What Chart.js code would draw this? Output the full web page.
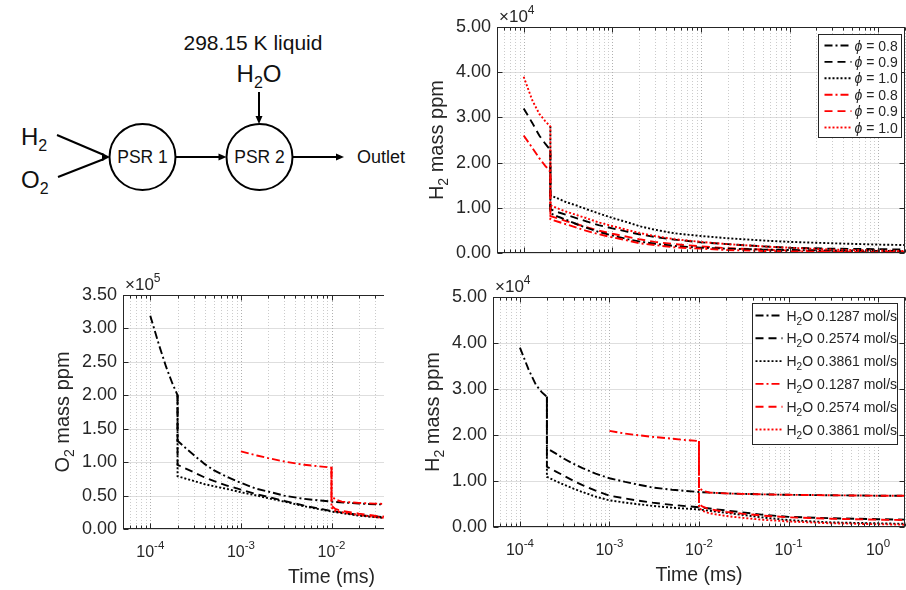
<!DOCTYPE html>
<html>
<head>
<meta charset="utf-8">
<script src="https://cdn.jsdelivr.net/npm/chart.js@4.4.0/dist/chart.umd.min.js"></script>
<style>
  html, body { margin: 0; padding: 0; background: #fff; width: 906px; height: 590px; overflow: hidden; position: relative; }
  .panel { position: absolute; }
  .panel canvas { display: block; }
</style>
</head>
<body>

<svg width="440" height="260" style="position:absolute;left:0;top:0" font-family="'Liberation Sans', Arial, sans-serif" fill="#111">
  <text x="253" y="50" font-size="21" text-anchor="middle">298.15 K liquid</text>
  <text x="259" y="82" font-size="24" text-anchor="middle">H<tspan font-size="16" dy="6">2</tspan><tspan dy="-6">O</tspan></text>
  <g stroke="#000" stroke-width="2" fill="none">
    <line x1="259" y1="92" x2="259" y2="117"/>
    <circle cx="142.5" cy="157" r="33"/>
    <circle cx="259.5" cy="157" r="33"/>
    <line x1="175.5" y1="157" x2="220" y2="157"/>
    <line x1="292.5" y1="157" x2="337" y2="157"/>
    <line x1="57" y1="135" x2="104" y2="155"/>
    <line x1="58" y1="177" x2="104" y2="159"/>
  </g>
  <g fill="#000">
    <polygon points="259,124 255.5,116 262.5,116"/>
    <polygon points="226.5,157 218.5,153.5 218.5,160.5"/>
    <polygon points="344,157 336,153.5 336,160.5"/>
    <polygon points="110,157 102,153 102,161"/>
  </g>
  <text x="142.5" y="163" font-size="17.5" text-anchor="middle">PSR 1</text>
  <text x="259.5" y="163" font-size="17.5" text-anchor="middle">PSR 2</text>
  <text x="357" y="163" font-size="18">Outlet</text>
  <text x="21" y="145" font-size="24">H<tspan font-size="16" dy="6">2</tspan></text>
  <text x="21" y="188" font-size="24">O<tspan font-size="16" dy="6">2</tspan></text>
</svg>

<div class="panel" style="left:410px;top:0;width:500px;height:270px"><canvas id="chart-h2-phi"></canvas></div>
<div class="panel" style="left:0;top:270px;width:384px;height:320px;overflow:hidden">
  <div style="position:relative;width:545px;height:320px"><canvas id="chart-o2-h2o"></canvas></div>
</div>
<div class="panel" style="left:410px;top:270px;width:500px;height:320px"><canvas id="chart-h2-h2o"></canvas></div>

<script>
// time axis samples (ms)
const tPre = [1e-4, 1.25e-4, 1.5e-4, 1.75e-4, 2e-4];
const tPost = [2e-4, 2.5e-4, 3e-4, 4e-4, 5e-4, 7e-4, 1e-3, 1.5e-3, 2e-3, 3e-3, 5e-3, 1e-2, 2e-2, 5e-2, 0.1, 0.3, 1, 2];
const tRedPre = [1e-3, 1.5e-3, 2e-3, 3e-3, 5e-3, 7e-3, 1e-2];
const tRedPost = [1e-2, 1.1e-2, 1.3e-2, 1.6e-2, 2e-2, 3e-2, 5e-2, 0.1, 0.3, 1, 2];

// top right: H2 mass ppm (x1e4) vs equivalence ratio
const aPre08 = [2.6, 2.33, 2.1, 1.93, 1.8];
const aPre09 = [3.2, 2.88, 2.6, 2.42, 2.28];
const aPre10 = [3.9, 3.38, 3.08, 2.92, 2.8];
const aBlk08 = [0.88, 0.8, 0.74, 0.64, 0.57, 0.47, 0.39, 0.31, 0.26, 0.21, 0.16, 0.12, 0.1, 0.08, 0.07, 0.06, 0.05, 0.05];
const aBlk09 = [0.97, 0.9, 0.85, 0.77, 0.71, 0.62, 0.55, 0.47, 0.42, 0.36, 0.3, 0.24, 0.2, 0.15, 0.12, 0.1, 0.09, 0.08];
const aBlk10 = [1.28, 1.2, 1.13, 1.05, 0.98, 0.88, 0.78, 0.68, 0.6, 0.52, 0.44, 0.38, 0.33, 0.28, 0.25, 0.22, 0.19, 0.18];
const aRed08 = [0.75, 0.69, 0.64, 0.56, 0.5, 0.42, 0.35, 0.28, 0.22, 0.18, 0.13, 0.1, 0.07, 0.05, 0.04, 0.03, 0.02, 0.02];
const aRed09 = [0.82, 0.76, 0.71, 0.64, 0.58, 0.5, 0.43, 0.36, 0.31, 0.25, 0.2, 0.15, 0.11, 0.08, 0.06, 0.04, 0.03, 0.03];
const aRed10 = [1.06, 0.98, 0.92, 0.84, 0.78, 0.68, 0.6, 0.51, 0.45, 0.38, 0.31, 0.25, 0.2, 0.15, 0.12, 0.08, 0.06, 0.05];
const phiLabels = ['0.8', '0.9', '1.0', '0.8', '0.9', '1.0'];

// bottom right: H2 mass ppm (x1e4) vs water flow
const bPre = [3.9, 3.42, 3.1, 2.93, 2.83];
const bBlk1287 = [1.71, 1.6, 1.5, 1.37, 1.28, 1.16, 1.06, 0.98, 0.93, 0.86, 0.81, 0.76, 0.73, 0.71, 0.7, 0.69, 0.68, 0.68];
const bBlk2574 = [1.31, 1.21, 1.13, 1.0, 0.91, 0.79, 0.68, 0.62, 0.58, 0.53, 0.48, 0.43, 0.36, 0.27, 0.22, 0.19, 0.17, 0.16];
const bBlk3861 = [1.09, 1.0, 0.93, 0.83, 0.76, 0.66, 0.58, 0.53, 0.5, 0.46, 0.42, 0.38, 0.31, 0.21, 0.15, 0.1, 0.08, 0.07];
const bRedPre = [2.09, 2.03, 2.0, 1.96, 1.92, 1.89, 1.87];
const bRed1287 = [0.85, 0.79, 0.75, 0.74, 0.73, 0.72, 0.71, 0.7, 0.69, 0.68, 0.68];
const bRed2574 = [0.5, 0.44, 0.39, 0.36, 0.33, 0.29, 0.25, 0.21, 0.18, 0.16, 0.15];
const bRed3861 = [0.42, 0.35, 0.3, 0.27, 0.24, 0.2, 0.16, 0.12, 0.08, 0.06, 0.05];
const flowLabels = ['0.1287', '0.2574', '0.3861', '0.1287', '0.2574', '0.3861'];

// bottom left: O2 mass ppm (x1e5) vs water flow
const cPre = [3.19, 2.75, 2.42, 2.18, 2.0];
const cBlk1287 = [1.32, 1.2, 1.11, 0.97, 0.88, 0.78, 0.69, 0.6, 0.56, 0.5, 0.45, 0.41, 0.38, 0.36, 0.35, 0.34, 0.34, 0.34];
const cBlk2574 = [0.96, 0.9, 0.85, 0.77, 0.72, 0.65, 0.59, 0.52, 0.48, 0.42, 0.35, 0.27, 0.21, 0.16, 0.14, 0.12, 0.11, 0.11];
const cBlk3861 = [0.79, 0.75, 0.72, 0.67, 0.64, 0.6, 0.55, 0.5, 0.46, 0.41, 0.34, 0.26, 0.2, 0.15, 0.13, 0.11, 0.1, 0.1];
const cRedPre = [1.16, 1.1, 1.06, 1.01, 0.96, 0.94, 0.92];
const cRed1287 = [0.5, 0.44, 0.41, 0.4, 0.39, 0.38, 0.37, 0.36, 0.35, 0.34, 0.34];
const cRed2574 = [0.35, 0.3, 0.27, 0.25, 0.23, 0.2, 0.17, 0.14, 0.12, 0.11, 0.11];
const cRed3861 = [0.32, 0.27, 0.25, 0.23, 0.21, 0.18, 0.15, 0.13, 0.11, 0.1, 0.1];

// axis ticks
const decadeTicks = [1e-4, 1e-3, 1e-2, 1e-1, 1];
const decadeExps = ['-4', '-3', '-2', '-1', '0'];
const X_MIN = 5e-5;
const X_MAX = 2;

const FONT = '"Liberation Sans", Arial, Helvetica, sans-serif';
const INK = '#262626';
const BLACK = '#000000';
const RED = '#ff0000';
const DASH_DOT = [8, 3, 2, 3];
const DASHED = [8, 5];
const DOTTED = [2, 2];

const pts = (ts, vs) => ts.map((t, i) => ({ x: t, y: vs[i] }));
const lastPt = (ts, vs) => [{ x: ts[ts.length - 1], y: vs[vs.length - 1] }];

function line(label, color, dash, data, order) {
    return { label, data, borderColor: color, borderDash: dash, borderWidth: 1.9, pointRadius: 0, fill: false, tension: 0, order };
}

const fontOf = p => `${p.italic ? 'italic ' : ''}${p.size}px ${FONT}`;

function richWidth(ctx, parts) {
    let w = 0;
    for (const p of parts) {
        ctx.font = fontOf(p);
        w += ctx.measureText(p.t).width;
    }
    return w;
}

function drawRich(ctx, parts, x, y, align) {
    const w = richWidth(ctx, parts);
    let cx = align === 'center' ? x - w / 2 : align === 'right' ? x - w : x;
    ctx.textAlign = 'left';
    ctx.textBaseline = 'alphabetic';
    for (const p of parts) {
        ctx.font = fontOf(p);
        ctx.fillText(p.t, cx, y + (p.dy || 0));
        cx += ctx.measureText(p.t).width;
    }
}

function logGrid(min, max) {
    const out = [];
    for (let e = -6; e <= 1; e++) {
        for (let m = 1; m <= 9; m++) {
            const v = m * Math.pow(10, e);
            if (v >= min * 0.999 && v <= max * 1.001) out.push({ v, major: m === 1 });
        }
    }
    return out;
}

// Matlab-like box, grid, labels and legend
function matlabPlugin(cfg) {
    return {
        id: 'matlab_' + cfg.id,
        beforeDatasetsDraw(chart) {
            const { ctx, chartArea: a, scales: { x, y } } = chart;
            ctx.save();
            ctx.lineWidth = 1;
            ctx.strokeStyle = '#dedede';
            y.ticks.forEach(t => {
                const py = Math.round(y.getPixelForValue(t.value)) + 0.5;
                ctx.beginPath();
                ctx.moveTo(a.left, py);
                ctx.lineTo(a.right, py);
                ctx.stroke();
            });
            ctx.setLineDash([1, 2]);
            logGrid(x.min, x.max).forEach(t => {
                const px = Math.round(x.getPixelForValue(t.v)) + 0.5;
                ctx.strokeStyle = t.major ? '#b0b0b0' : '#cbcbcb';
                ctx.beginPath();
                ctx.moveTo(px, a.top);
                ctx.lineTo(px, a.bottom);
                ctx.stroke();
            });
            ctx.restore();
        },
        afterDatasetsDraw(chart) {
            const { ctx, chartArea: a, scales: { x, y } } = chart;
            const L = Math.round(a.left) + 0.5, R = Math.round(a.right) - 0.5;
            const T = Math.round(a.top) + 0.5, B = Math.round(a.bottom) - 0.5;
            ctx.save();
            ctx.strokeStyle = INK;
            ctx.lineWidth = 1;
            ctx.setLineDash([]);
            ctx.strokeRect(L, T, R - L, B - T);
            ctx.beginPath();
            logGrid(x.min, x.max).forEach(t => {
                const px = Math.round(x.getPixelForValue(t.v)) + 0.5;
                const len = t.major ? 5 : 3;
                ctx.moveTo(px, B); ctx.lineTo(px, B - len);
                ctx.moveTo(px, T); ctx.lineTo(px, T + len);
            });
            y.ticks.forEach(t => {
                const py = Math.round(y.getPixelForValue(t.value)) + 0.5;
                ctx.moveTo(L, py); ctx.lineTo(L + 5, py);
                ctx.moveTo(R, py); ctx.lineTo(R - 5, py);
            });
            ctx.stroke();

            // legend
            const lg = cfg.legend;
            const bx = Math.round(a.right - lg.right - lg.width) + 0.5;
            const by = Math.round(a.top + lg.top) + 0.5;
            ctx.fillStyle = '#fff';
            ctx.fillRect(bx, by, lg.width, lg.height);
            ctx.strokeStyle = INK;
            ctx.strokeRect(bx, by, lg.width, lg.height);
            chart.data.datasets.forEach((ds, i) => {
                const ly = by + lg.first + i * lg.step;
                ctx.strokeStyle = ds.borderColor;
                ctx.lineWidth = ds.borderWidth;
                ctx.setLineDash(ds.borderDash);
                ctx.beginPath();
                ctx.moveTo(bx + lg.sample[0], ly);
                ctx.lineTo(bx + lg.sample[1], ly);
                ctx.stroke();
                ctx.setLineDash([]);
                ctx.fillStyle = INK;
                drawRich(ctx, lg.parts(i), bx + lg.textX, ly + 5, 'left');
            });
            ctx.restore();
        },
        afterDraw(chart) {
            const { ctx, chartArea: a, scales: { x } } = chart;
            ctx.save();
            ctx.fillStyle = INK;
            // multiplier
            drawRich(ctx, [
                { t: '\u00d7', size: 17 },
                { t: '10', size: 17 },
                { t: cfg.power, size: 12, dy: -8 },
            ], a.left + 2, a.top - 5, 'left');
            // y title
            ctx.save();
            ctx.translate(a.left - 54, (a.top + a.bottom) / 2);
            ctx.rotate(-Math.PI / 2);
            drawRich(ctx, cfg.yTitle, 0, 0, 'center');
            ctx.restore();
            if (cfg.xLabels) {
                decadeTicks.forEach((v, i) => {
                    const px = x.getPixelForValue(v);
                    drawRich(ctx, [
                        { t: '10', size: 16 },
                        { t: decadeExps[i], size: 11.5, dy: -8 },
                    ], px, a.bottom + 28, 'center');
                });
                drawRich(ctx, [{ t: 'Time (ms)', size: 19.5 }], (a.left + a.right) / 2, a.bottom + 54, 'center');
            }
            ctx.restore();
        },
    };
}

function options(yMax, yStep, pad, yWidth, xHeight) {
    return {
        responsive: true,
        maintainAspectRatio: false,
        animation: false,
        devicePixelRatio: 1,
        events: [],
        layout: { padding: pad },
        plugins: { legend: { display: false }, tooltip: { enabled: false } },
        scales: {
            x: {
                type: 'logarithmic',
                min: X_MIN,
                max: X_MAX,
                grid: { display: false, drawTicks: false },
                border: { display: false },
                ticks: { display: false },
                afterFit: s => { s.height = xHeight; },
            },
            y: {
                type: 'linear',
                min: 0,
                max: yMax,
                grid: { display: false, drawTicks: false },
                border: { display: false },
                ticks: {
                    stepSize: yStep,
                    padding: 6,
                    color: INK,
                    font: { family: FONT, size: 18 },
                    callback: v => Number(v).toFixed(2),
                },
                afterFit: s => { s.width = yWidth; },
            },
        },
    };
}

const phiParts = i => [{ t: '\u03d5', size: 14, italic: true }, { t: ' = ' + phiLabels[i], size: 14 }];
const flowParts = i => [
    { t: 'H', size: 14 },
    { t: '2', size: 10, dy: 4 },
    { t: 'O ' + flowLabels[i] + ' mol/s', size: 14 },
];
const h2Title = [{ t: 'H', size: 20 }, { t: '2', size: 14, dy: 5 }, { t: ' mass ppm', size: 20 }];
const o2Title = [{ t: 'O', size: 20 }, { t: '2', size: 14, dy: 5 }, { t: ' mass ppm', size: 20 }];

// top right
new Chart(document.getElementById('chart-h2-phi'), {
    type: 'line',
    data: {
        datasets: [
            line('phi 0.8', BLACK, DASH_DOT, lastPt(tPre, aPre08).concat(pts(tPost, aBlk08)), 1),
            line('phi 0.9', BLACK, DASHED, pts(tPre, aPre09).concat(pts(tPost, aBlk09)), 1),
            line('phi 1.0', BLACK, DOTTED, lastPt(tPre, aPre10).concat(pts(tPost, aBlk10)), 1),
            line('phi 0.8', RED, DASH_DOT, pts(tPre, aPre08).concat(pts(tPost, aRed08)), 0),
            line('phi 0.9', RED, DASHED, lastPt(tPre, aPre09).concat(pts(tPost, aRed09)), 2),
            line('phi 1.0', RED, DOTTED, pts(tPre, aPre10).concat(pts(tPost, aRed10)), 0),
        ],
    },
    options: options(5, 1, { left: 0, top: 27, right: 5, bottom: 0 }, 87, 14),
    plugins: [matlabPlugin({
        id: 'phi', power: '4', yTitle: h2Title, xLabels: false,
        legend: { right: 4, top: 7, width: 83, height: 103, first: 11, step: 16.4, sample: [6, 33], textX: 36, parts: phiParts },
    })],
});

// bottom left
new Chart(document.getElementById('chart-o2-h2o'), {
    type: 'line',
    data: {
        datasets: [
            line('0.1287', BLACK, DASH_DOT, pts(tPre, cPre).concat(pts(tPost, cBlk1287)), 1),
            line('0.2574', BLACK, DASHED, lastPt(tPre, cPre).concat(pts(tPost, cBlk2574)), 1),
            line('0.3861', BLACK, DOTTED, lastPt(tPre, cPre).concat(pts(tPost, cBlk3861)), 1),
            line('0.1287', RED, DASH_DOT, pts(tRedPre, cRedPre).concat(pts(tRedPost, cRed1287)), 0),
            line('0.2574', RED, DASHED, lastPt(tRedPre, cRedPre).concat(pts(tRedPost, cRed2574)), 0),
            line('0.3861', RED, DOTTED, lastPt(tRedPre, cRedPre).concat(pts(tRedPost, cRed3861)), 0),
        ],
    },
    options: options(3.5, 0.5, { left: 0, top: 25, right: 5, bottom: 0 }, 123, 61),
    plugins: [matlabPlugin({
        id: 'o2', power: '5', yTitle: o2Title, xLabels: true,
        legend: { right: -400, top: 8, width: 145, height: 141, first: 12, step: 22.8, sample: [3, 30], textX: 34, parts: flowParts },
    })],
});

// bottom right
new Chart(document.getElementById('chart-h2-h2o'), {
    type: 'line',
    data: {
        datasets: [
            line('0.1287', BLACK, DASH_DOT, pts(tPre, bPre).concat(pts(tPost, bBlk1287)), 1),
            line('0.2574', BLACK, DASHED, lastPt(tPre, bPre).concat(pts(tPost, bBlk2574)), 1),
            line('0.3861', BLACK, DOTTED, lastPt(tPre, bPre).concat(pts(tPost, bBlk3861)), 1),
            line('0.1287', RED, DASH_DOT, pts(tRedPre, bRedPre).concat(pts(tRedPost, bRed1287)), 0),
            line('0.2574', RED, DASHED, lastPt(tRedPre, bRedPre).concat(pts(tRedPost, bRed2574)), 0),
            line('0.3861', RED, DOTTED, lastPt(tRedPre, bRedPre).concat(pts(tRedPost, bRed3861)), 0),
        ],
    },
    options: options(5, 1, { left: 0, top: 27, right: 5, bottom: 0 }, 83, 63),
    plugins: [matlabPlugin({
        id: 'h2o', power: '4', yTitle: h2Title, xLabels: true,
        legend: { right: 8, top: 6, width: 145, height: 141, first: 12, step: 22.8, sample: [3, 30], textX: 34, parts: flowParts },
    })],
});
</script>
</body>
</html>
